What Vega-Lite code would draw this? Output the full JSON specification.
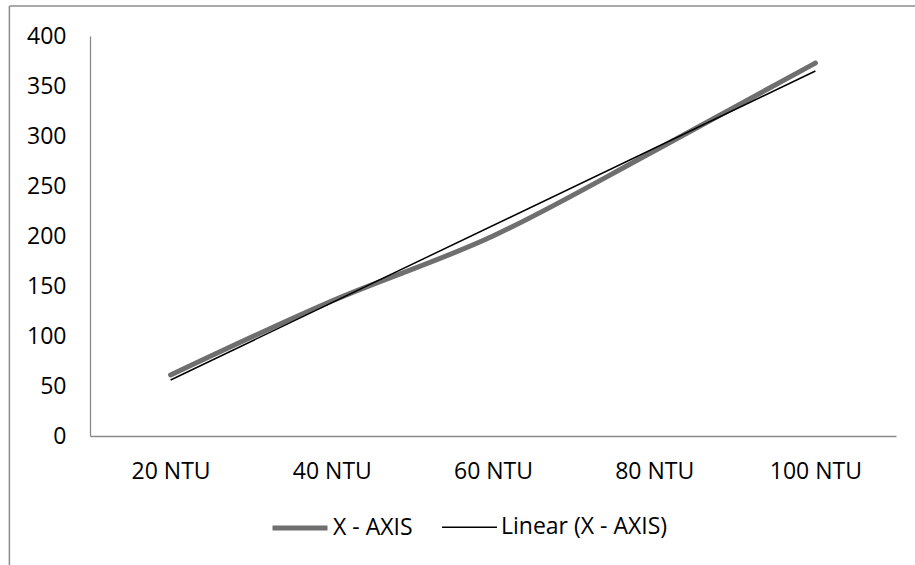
{
  "$schema": "https://vega.github.io/schema/vega-lite/v6.json",
  "width": 806,
  "height": 400,
  "autosize": "none",
  "padding": {"left": 90, "top": 36, "right": 19, "bottom": 129},
  "background": "white",
  "config": {
    "view": {"stroke": null},
    "font": "Open Sans",
    "axis": {"labelFont": "Open Sans", "labelFontSize": 23, "labelColor": "#000000", "ticks": false, "grid": false, "domainColor": "#8a8a8a", "domainWidth": 1.3, "title": null},
    "legend": {"labelFont": "Open Sans", "labelFontSize": 23, "labelColor": "#000000", "labelLimit": 400}
  },
  "datasets": {
    "series": [
      {"ntu": 20, "value": 61, "series": "X - AXIS"},
      {"ntu": 40, "value": 135, "series": "X - AXIS"},
      {"ntu": 60, "value": 200, "series": "X - AXIS"},
      {"ntu": 80, "value": 285, "series": "X - AXIS"},
      {"ntu": 100, "value": 373, "series": "X - AXIS"}
    ],
    "trend": [
      {"ntu": 20, "value": 56, "series": "Linear (X - AXIS)"},
      {"ntu": 100, "value": 365, "series": "Linear (X - AXIS)"}
    ],
    "frame": [{"edge": "frame"}]
  },
  "layer": [
    {
      "data": {"name": "series"},
      "mark": {"type": "line", "interpolate": "monotone", "strokeCap": "round", "strokeJoin": "round"},
      "encoding": {
        "x": {"field": "ntu", "type": "quantitative", "scale": {"domain": [10, 110], "nice": false, "zero": false},
          "axis": {"values": [20, 40, 60, 80, 100], "labelExpr": "datum.value + ' NTU'", "labelPadding": 24}},
        "y": {"field": "value", "type": "quantitative", "scale": {"domain": [0, 400], "nice": false},
          "axis": {"values": [0, 50, 100, 150, 200, 250, 300, 350, 400], "labelPadding": 24}},
        "color": {"field": "series", "type": "nominal",
          "scale": {"domain": ["X - AXIS", "Linear (X - AXIS)"], "range": ["#6f6f6f", "#000000"]},
          "legend": {"title": null, "orient": "none", "legendX": 180, "legendY": 462, "direction": "horizontal", "symbolType": "stroke", "symbolSize": 3025, "labelOffset": 3, "columnPadding": 26, "padding": 0}},
        "strokeWidth": {"field": "series", "type": "nominal",
          "scale": {"domain": ["X - AXIS", "Linear (X - AXIS)"], "range": [5, 1.5]},
          "legend": {"title": null, "orient": "none", "legendX": 180, "legendY": 462, "direction": "horizontal", "symbolType": "stroke", "symbolSize": 3025, "labelOffset": 3, "columnPadding": 26, "padding": 0}}
      }
    },
    {
      "data": {"name": "trend"},
      "mark": {"type": "line"},
      "encoding": {
        "x": {"field": "ntu", "type": "quantitative"},
        "y": {"field": "value", "type": "quantitative"},
        "color": {"field": "series", "type": "nominal"},
        "strokeWidth": {"field": "series", "type": "nominal"}
      }
    },
    {
      "data": {"name": "frame"},
      "mark": {"type": "rule", "clip": false, "color": "#8c8c8c", "strokeWidth": 1.5},
      "encoding": {
        "x": {"datum": 0, "type": "quantitative"},
        "x2": {"datum": 120},
        "y": {"datum": 430, "type": "quantitative"}
      }
    },
    {
      "data": {"name": "frame"},
      "mark": {"type": "rule", "clip": false, "color": "#8c8c8c", "strokeWidth": 1.5},
      "encoding": {
        "x": {"datum": 0, "type": "quantitative"},
        "y": {"datum": 430, "type": "quantitative"},
        "y2": {"datum": -140}
      }
    }
  ]
}
